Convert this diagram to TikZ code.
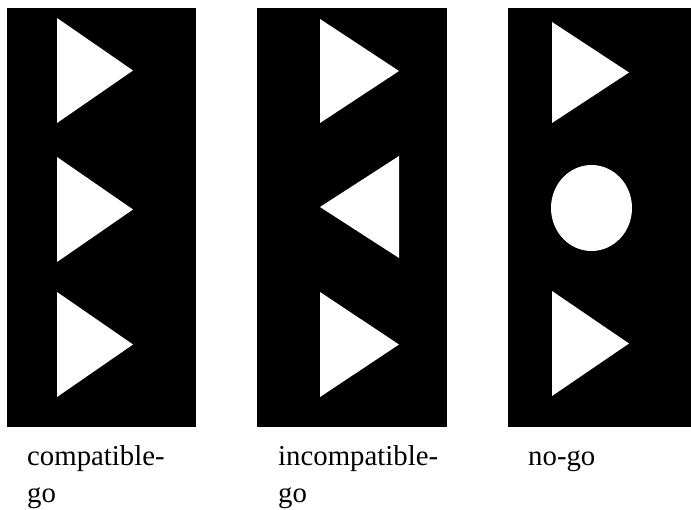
\documentclass[tikz,border=0pt]{standalone}
\usepackage{fontspec}
\setmainfont{Liberation Serif}
\begin{document}
\begin{tikzpicture}[x=1pt,y=-1pt,every node/.style={font=\fontsize{28.8}{37}\selectfont,inner sep=0pt,anchor=base west}]
\useasboundingbox (0,0) rectangle (691,509);
% Black panels
\foreach \xa/\xb in {7/196,257/447,508/691} {
  \fill[black] (\xa,8) rectangle (\xb,427);
}
% Right pointing triangles: left x / apex x / top y / bottom y
\foreach \xl/\xr/\yt/\yb in {57/133/18/123,57/133/157/262,57/133/292/397,320/399/19/123,320/399/292/397,552/629/22/123,552/629/291/396} {
  \fill[white] (\xl,\yt) -- (\xr,{(\yt+\yb)/2}) -- (\xl,\yb) -- cycle;
}
% Left pointing triangle (incompatible)
\fill[white] (399,156) -- (320,207) -- (399,258) -- cycle;
% Circle (no-go)
\fill[white] (591.5,208) ellipse [x radius=40.5,y radius=43];
% Labels
\node (compat) at (27,465) {compatible-};
\node (compatgo) at (27,502) {go};
\node (incompat) at (278,465) {incompatible-};
\node (incompatgo) at (278,502) {go};
\node (nogo) at (528,465) {no-go};
\end{tikzpicture}
\end{document}
